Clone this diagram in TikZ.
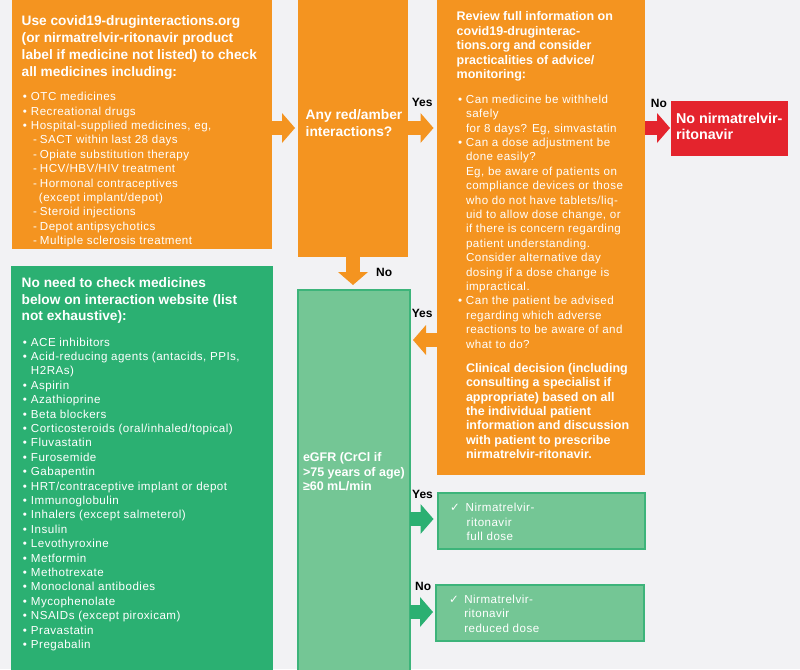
\documentclass[tikz,border=0pt]{standalone}
\usepackage{fontspec}
\setmainfont{Liberation Sans}
\newfontfamily\lsp[LetterSpace=4]{Liberation Sans}
\newfontfamily\symf{DejaVu Sans}
\usetikzlibrary{arrows.meta}
\definecolor{bgc}{HTML}{F2F2F4}
\definecolor{orng}{HTML}{F49420}
\definecolor{redc}{HTML}{E4242D}
\definecolor{dgrn}{HTML}{2BB072}
\definecolor{lgrn}{HTML}{74C695}
\definecolor{bgrn}{HTML}{3DB47A}
\newcommand\bl{\makebox[8pt][l]{•}}
\newcommand\ct{\hspace*{8pt}}
\newcommand\subit{\hspace*{10pt}\makebox[7pt][l]{-}}
\newcommand\hdA{\bfseries\fontsize{13.7}{16.7}\selectfont}
\newcommand\hdB{\bfseries\fontsize{12.5}{14.35}\selectfont}
\newcommand\lst{\lsp\fontsize{11.6}{14.4}\selectfont}
\tikzset{
  box/.style={inner sep=0pt, outer sep=0pt, anchor=north west},
  obox/.style={box, fill=orng},
  rbox/.style={box, fill=redc},
  gbox/.style={box, fill=dgrn},
  lbox/.style={box, fill=lgrn, draw=bgrn, line width=1.2pt},
  txt/.style={inner sep=0pt, outer sep=0pt, anchor=base west, text=white},
  lbl/.style={inner sep=0pt, anchor=base west, text=black, font=\bfseries\fontsize{12}{14}\selectfont},
  arr/.style={line width=14pt, -{Triangle[width=30pt,length=13pt,line width=0pt]}}
}
\begin{document}
\begin{tikzpicture}[x=1pt,y=-1pt]
\useasboundingbox (0,0) rectangle (800,669);
\clip (0,0) rectangle (800,669);
\fill[bgc] (0,0) rectangle (800,669);

% boxes
\node[obox, minimum width=260pt, minimum height=254pt] (use) at (12,-5) {};
\node[obox, minimum width=110pt, minimum height=262pt] (anyq) at (298,-5) {};
\node[obox, minimum width=208pt, minimum height=480pt] (review) at (437,-5) {};
\node[rbox, minimum width=117pt, minimum height=55pt] (noNR) at (671,101) {};
\node[gbox, minimum width=262pt, minimum height=420pt] (noneed) at (11,266) {};
\node[lbox, minimum width=112pt, minimum height=400pt] (egfr) at (298,290) {};
\node[lbox, minimum width=207pt, minimum height=56pt] (full) at (438,493) {};
\node[lbox, minimum width=208pt, minimum height=56pt] (reduced) at (436,585) {};

% texts
\node[txt] (useh) at (21.7,26) {\parbox[t]{300pt}{\hdA
Use covid19-druginteractions.org\\
(or nirmatrelvir-ritonavir product\\
label if medicine not listed) to check\\
all medicines including:}};
\node[txt] (usel) at (23,100.7) {\parbox[t]{300pt}{\lst
\bl OTC medicines\\
\bl Recreational drugs\\
\bl Hospital-supplied medicines, eg,\\
\subit SACT within last 28 days\\
\subit Opiate substitution therapy\\
\subit HCV/HBV/HIV treatment\\
\subit Hormonal contraceptives\\
\hspace*{16pt}(except implant/depot)\\
\subit Steroid injections\\
\subit Depot antipsychotics\\
\subit Multiple sclerosis treatment}};

\node[txt] (anyqt) at (305.7,119.5) {\parbox[t]{200pt}{\bfseries\fontsize{13.8}{17.3}\selectfont
Any red/amber\\
interactions?}};

\node[txt] (revh) at (456.7,21) {\parbox[t]{300pt}{\hdB
Review full information on\\
covid19-druginterac-\\
tions.org and consider\\
practicalities of advice/\\
monitoring:}};
\node[txt] (revl) at (458,103.3) {\parbox[t]{300pt}{\lst
\bl Can medicine be withheld\\
\ct safely\\
\ct for 8 days? Eg, simvastatin\\
\bl Can a dose adjustment be\\
\ct done easily?\\
\ct Eg, be aware of patients on\\
\ct compliance devices or those\\
\ct who do not have tablets/liq-\\
\ct uid to allow dose change, or\\
\ct if there is concern regarding\\
\ct patient understanding.\\
\ct Consider alternative day\\
\ct dosing if a dose change is\\
\ct impractical.\\
\bl Can the patient be advised\\
\ct regarding which adverse\\
\ct reactions to be aware of and\\
\ct what to do?}};
\node[txt] (revc) at (466,372.3) {\parbox[t]{300pt}{\hdB
Clinical decision (including\\
consulting a specialist if\\
appropriate) based on all\\
the individual patient\\
information and discussion\\
with patient to prescribe\\
nirmatrelvir-ritonavir.}};

\node[txt] (noNRt) at (676,123.5) {\parbox[t]{200pt}{\bfseries\fontsize{14.3}{15.5}\selectfont
No nirmatrelvir-\\
ritonavir}};

\node[txt] (noneedh) at (21.7,287.3) {\parbox[t]{300pt}{\hdA
No need to check medicines\\
below on interaction website (list\\
not exhaustive):}};
\node[txt] (noneedl) at (23,346) {\parbox[t]{300pt}{\lst
\bl ACE inhibitors\\
\bl Acid-reducing agents (antacids, PPIs,\\
\ct H2RAs)\\
\bl Aspirin\\
\bl Azathioprine\\
\bl Beta blockers\\
\bl Corticosteroids (oral/inhaled/topical)\\
\bl Fluvastatin\\
\bl Furosemide\\
\bl Gabapentin\\
\bl HRT/contraceptive implant or depot\\
\bl Immunoglobulin\\
\bl Inhalers (except salmeterol)\\
\bl Insulin\\
\bl Levothyroxine\\
\bl Metformin\\
\bl Methotrexate\\
\bl Monoclonal antibodies\\
\bl Mycophenolate\\
\bl NSAIDs (except piroxicam)\\
\bl Pravastatin\\
\bl Pregabalin}};

\node[txt] (egfrt) at (303,461.7) {\parbox[t]{200pt}{\bfseries\fontsize{12.5}{14.5}\selectfont
eGFR (CrCl if\\
>75 years of age)\\
≥60 mL/min}};

\node[txt] (fullt) at (450,511.7) {\parbox[t]{200pt}{\lst
\makebox[15.7pt][l]{\symf ✓}Nirmatrelvir-\\
\hspace*{16.7pt}ritonavir\\
\hspace*{16.7pt}full dose}};
\node[txt] (redt) at (449,603.3) {\parbox[t]{200pt}{\lst
\makebox[15.3pt][l]{\symf ✓}Nirmatrelvir-\\
\hspace*{15.3pt}ritonavir\\
\hspace*{15.3pt}reduced dose}};

% arrows
\coordinate (row1) at (0,128);
\coordinate (row2) at (0,340);
\coordinate (row3) at (0,519);
\coordinate (row4) at (0,612);
\draw[arr, orng, shorten >=3pt] (use.east |- row1) -- (anyq.west |- row1);
\draw[arr, orng, shorten >=3.5pt] (anyq.east |- row1) -- (review.west |- row1);
\draw[arr, redc, shorten >=1pt] (review.east |- row1) -- (noNR.west |- row1);
\draw[arr, orng, shorten >=5pt] (anyq.south) -- (anyq.south |- egfr.north);
\draw[arr, orng, shorten >=3pt] (review.west |- row2) -- (egfr.east |- row2);
\draw[arr, dgrn, shorten >=4.5pt] (egfr.east |- row3) -- (full.west |- row3);
\draw[arr, dgrn, shorten >=3pt] (egfr.east |- row4) -- (reduced.west |- row4);

% labels
\node[lbl] (lyes1) at (411.7,106) {Yes};
\node[lbl] (lno1) at (376,276.7) {No};
\node[lbl] (lno2) at (650.7,107.3) {No};
\node[lbl] (lyes2) at (411.7,317.3) {Yes};
\node[lbl] (lyes3) at (412,498.3) {Yes};
\node[lbl] (lno3) at (415,590.7) {No};
\end{tikzpicture}
\end{document}
